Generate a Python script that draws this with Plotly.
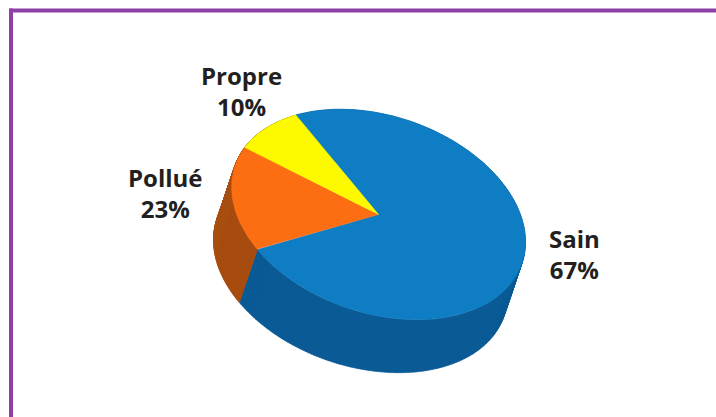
import numpy as np
import plotly.graph_objects as go

# Data
categories = ["Sain", "Pollué", "Propre"]
printed_percent = [67, 23, 10]
# Sweep of each slice as drawn in the picture (degrees)
drawn_sweep_deg = [269.7, 59.0, 31.3]
top_colors = ["#0f7dc3", "#fd6d12", "#fdfa00"]
side_colors = ["#0a5b95", "#a84d10", "#a8a400"]

# Projection of the tilted disc (screen pixels)
W, H = 716, 417
CX, CY = 378.5, 214.5
RX, SHEAR, RY = 147.0, 27.4, 101.6
DEPTH_X, DEPTH_Y = -18.0, 53.0
START_DEG = -34.2


def rim(theta_deg):
    t = np.radians(theta_deg)
    u, v = np.sin(t), -np.cos(t)
    return CX + RX * u, CY + SHEAR * u + RY * v


fig = go.Figure()

edges = np.concatenate([[START_DEG], START_DEG + np.cumsum(drawn_sweep_deg)])
arcs = [np.linspace(edges[i], edges[i + 1], 240) for i in range(len(categories))]

# Side walls first (back to front), built from small quads so the silhouette
# between the top rim and the shifted rim stays filled; then the top faces
for i in [2, 0, 1]:
    x, y = rim(arcs[i])
    qx, qy = [], []
    for k in range(len(x) - 1):
        qx += [x[k], x[k + 1], x[k + 1] + DEPTH_X, x[k] + DEPTH_X, x[k], None]
        qy += [y[k], y[k + 1], y[k + 1] + DEPTH_Y, y[k] + DEPTH_Y, y[k], None]
    fig.add_trace(go.Scatter(
        x=qx, y=qy, mode="lines", fill="toself", fillcolor=side_colors[i],
        line=dict(width=0.6, color=side_colors[i]), hoverinfo="skip",
        connectgaps=False,
    ))

for i in range(len(categories)):
    x, y = rim(arcs[i])
    fig.add_trace(go.Scatter(
        x=np.concatenate([[CX], x, [CX]]),
        y=np.concatenate([[CY], y, [CY]]),
        mode="lines", fill="toself", fillcolor=top_colors[i],
        line=dict(width=0.5, color=top_colors[i]),
        name=categories[i], hoverinfo="name",
    ))

label_pos = {"Sain": (574.5, 253.5), "Pollué": (165, 192.5), "Propre": (241, 90.5)}
annotations = [
    dict(x=label_pos[c][0], y=label_pos[c][1], xref="x", yref="y",
         text=f"{c}<br>{p}%", showarrow=False, align="center",
         font=dict(family="Open Sans", size=24, color="#231f20", weight="bold"))
    for c, p in zip(categories, printed_percent)
]

BORDER = "#8f3fa8"
fig.update_layout(
    width=W, height=H, margin=dict(l=0, r=0, t=0, b=0), showlegend=False,
    paper_bgcolor="white", plot_bgcolor="white", annotations=annotations,
    xaxis=dict(range=[0, W], visible=False, fixedrange=True),
    yaxis=dict(range=[H, 0], visible=False, fixedrange=True),
    shapes=[
        dict(type="line", xref="x", yref="y", x0=9, x1=W, y0=10.5, y1=10.5,
             line=dict(color=BORDER, width=4)),
        dict(type="line", xref="x", yref="y", x0=11, x1=11, y0=8.5, y1=H,
             line=dict(color=BORDER, width=4)),
    ],
)

fig.write_html("out.html", post_script="document.body.style.margin='0';",
               config={"displayModeBar": False})
